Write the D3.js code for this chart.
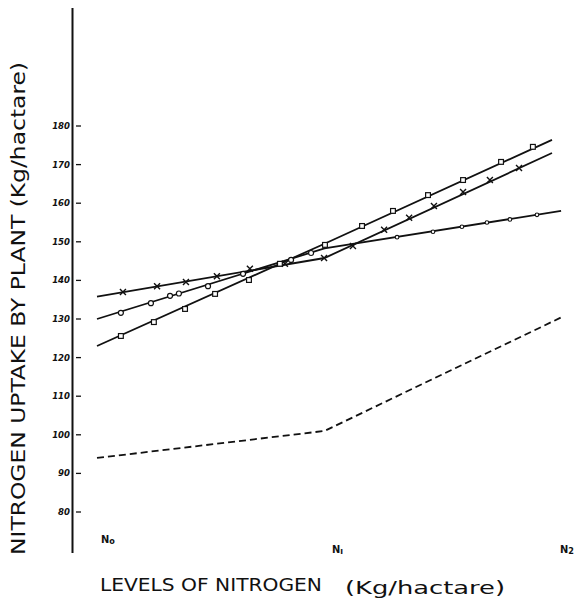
<!DOCTYPE html>
<html>
<head>
<meta charset="utf-8">
<script src="https://cdn.jsdelivr.net/npm/d3@7"></script>
<style>
    body { margin: 0; background: #fff; }
    svg { display: block; }
    .hand { font-family: "Liberation Sans Narrow", "DejaVu Sans Condensed", sans-serif; fill: #111; }
</style>
</head>
<body>
<svg id="chart"></svg>
<script>
// nitrogen levels on the x axis (0 = N0, 1 = N1, 2 = N2)
const levelLabels = ["N", "N", "N"];
const levelSubs = ["o", "ı", "2"];
const levelX = [0, 1, 2];
const yTicks = [80, 90, 100, 110, 120, 130, 140, 150, 160, 170, 180];

// the four curves, values at N0, N1, N2 (kg/ha)
const squareX = [0, 1, 2];
const squareLine = [123, 149.5, 176.4];
const crossX = [0, 1, 2];
const crossLine = [135.8, 145.8, 173];
const circleX = [0, 1, 2.04];
const circleLine = [130, 148.3, 158];
const dashedX = [0, 1, 2.04];
const dashedLine = [94, 101, 130.4];

// hand drawn markers sitting on the lines [level, value]
const squareMarks = [[0.105, 125.6], [0.25, 129.2], [0.387, 132.6], [0.519, 136.5], [0.668, 140.1],
    [0.804, 144.3], [1.002, 149.2], [1.165, 154.1], [1.301, 158], [1.455, 162.1], [1.609, 166],
    [1.776, 170.7], [1.916, 174.6]];
const crossMarks = [[0.114, 137], [0.264, 138.5], [0.391, 139.6], [0.527, 141.1], [0.672, 143],
    [0.826, 144.3], [0.998, 145.8], [1.125, 148.9], [1.262, 153.1], [1.372, 156.2], [1.481, 159.3],
    [1.609, 162.9], [1.727, 166], [1.855, 169.1]];
const circleMarks = [[0.105, 131.6], [0.237, 134.1], [0.321, 136], [0.36, 136.6], [0.488, 138.5],
    [0.642, 141.7], [0.853, 145.3], [0.941, 147.1]];
const smallCircleMarks = [[1.319, 151.2], [1.477, 152.6], [1.604, 153.9], [1.714, 155],
    [1.815, 155.8], [1.934, 157]];

class NitrogenChart {
    constructor(svg, width = 580, height = 611) {
        this.svg = d3.select(svg);
        this.width = width;
        this.height = height;
    }

    initialize() {
        this.svg.attr("width", this.width).attr("height", this.height);

        this.xScale = d3.scaleLinear().domain([0, 2]).range([97, 552]);
        this.yScale = d3.scaleLinear().domain([80, 180]).range([512, 126]);

        this.axisGroup = this.svg.append("g");
        this.lineGroup = this.svg.append("g");
        this.markGroup = this.svg.append("g");
        this.labelGroup = this.svg.append("g");
    }

    drawAxes() {
        const y = this.yScale;

        // vertical axis line, runs past the tick range like the original drawing
        this.axisGroup.append("line")
            .attr("x1", 72.5).attr("x2", 72.5)
            .attr("y1", y(210.6)).attr("y2", y(69.4))
            .attr("stroke", "#111")
            .attr("stroke-width", 2);

        this.axisGroup.selectAll(".tick-mark")
            .data(yTicks)
            .join("line")
            .attr("class", "tick-mark")
            .attr("x1", 76).attr("x2", 81)
            .attr("y1", d => y(d)).attr("y2", d => y(d))
            .attr("stroke", "#111")
            .attr("stroke-width", 1.3);

        this.axisGroup.selectAll(".tick-label")
            .data(yTicks)
            .join("text")
            .attr("class", "tick-label hand")
            .attr("x", 70)
            .attr("y", d => y(d) + 3)
            .attr("text-anchor", "end")
            .style("font-size", "9.5px")
            .style("font-weight", "bold")
            .style("font-style", "italic")
            .text(d => d);

        // level labels under the plot
        const levelPos = [[11, 543], [13, 553], [15, 553]];
        const lv = this.labelGroup.selectAll(".level")
            .data(levelX)
            .join("text")
            .attr("class", "level hand")
            .attr("x", (d, i) => this.xScale(d) + levelPos[i][0])
            .attr("y", (d, i) => levelPos[i][1])
            .attr("text-anchor", "middle")
            .style("font-size", "11px")
            .style("font-weight", "bold");
        lv.append("tspan").text((d, i) => levelLabels[i]);
        lv.append("tspan")
            .attr("dy", 1)
            .style("font-size", "9px")
            .text((d, i) => levelSubs[i]);

        // axis titles
        this.labelGroup.append("text")
            .attr("class", "hand")
            .attr("transform", "translate(25, 555) rotate(-90)")
            .attr("textLength", 493)
            .attr("lengthAdjust", "spacingAndGlyphs")
            .style("font-size", "20px")
            .text("NITROGEN  UPTAKE  BY  PLANT  (Kg/hactare)");

        this.labelGroup.append("text")
            .attr("class", "hand")
            .attr("x", 100).attr("y", 591)
            .attr("textLength", 222)
            .attr("lengthAdjust", "spacingAndGlyphs")
            .style("font-size", "17px")
            .text("LEVELS  OF  NITROGEN");

        this.labelGroup.append("text")
            .attr("class", "hand")
            .attr("x", 345).attr("y", 594)
            .attr("textLength", 160)
            .attr("lengthAdjust", "spacingAndGlyphs")
            .style("font-size", "18px")
            .text("(Kg/hactare)");
    }

    drawLines() {
        const line = d3.line()
            .x(d => this.xScale(d[0]))
            .y(d => this.yScale(d[1]));

        const series = [
            { xs: squareX, ys: squareLine, dash: null },
            { xs: crossX, ys: crossLine, dash: null },
            { xs: circleX, ys: circleLine, dash: null },
            { xs: dashedX, ys: dashedLine, dash: "7,4" }
        ];

        this.lineGroup.selectAll("path")
            .data(series)
            .join("path")
            .attr("d", s => line(s.xs.map((x, i) => [x, s.ys[i]])))
            .attr("fill", "none")
            .attr("stroke", "#111")
            .attr("stroke-width", 1.8)
            .attr("stroke-dasharray", s => s.dash);
    }

    drawMarks() {
        const x = this.xScale, y = this.yScale;

        this.markGroup.selectAll(".sq")
            .data(squareMarks)
            .join("rect")
            .attr("class", "sq")
            .attr("x", d => x(d[0]) - 2.4)
            .attr("y", d => y(d[1]) - 2.4)
            .attr("width", 4.8).attr("height", 4.8)
            .attr("fill", "#fff")
            .attr("stroke", "#111")
            .attr("stroke-width", 1.2);

        this.markGroup.selectAll(".cr")
            .data(crossMarks)
            .join("path")
            .attr("class", "cr")
            .attr("d", d => {
                const cx = x(d[0]), cy = y(d[1]), r = 3;
                return `M${cx - r},${cy - r}L${cx + r},${cy + r}M${cx - r},${cy + r}L${cx + r},${cy - r}`;
            })
            .attr("stroke", "#111")
            .attr("stroke-width", 1.4);

        this.markGroup.selectAll(".ci")
            .data(circleMarks)
            .join("circle")
            .attr("class", "ci")
            .attr("cx", d => x(d[0]))
            .attr("cy", d => y(d[1]))
            .attr("r", 2.5)
            .attr("fill", "#fff")
            .attr("stroke", "#111")
            .attr("stroke-width", 1.2);

        this.markGroup.selectAll(".sc")
            .data(smallCircleMarks)
            .join("circle")
            .attr("class", "sc")
            .attr("cx", d => x(d[0]))
            .attr("cy", d => y(d[1]))
            .attr("r", 1.8)
            .attr("fill", "#fff")
            .attr("stroke", "#111")
            .attr("stroke-width", 1.1);
    }
}

const chart = new NitrogenChart("#chart");
chart.initialize();
chart.drawAxes();
chart.drawLines();
chart.drawMarks();
</script>
</body>
</html>
